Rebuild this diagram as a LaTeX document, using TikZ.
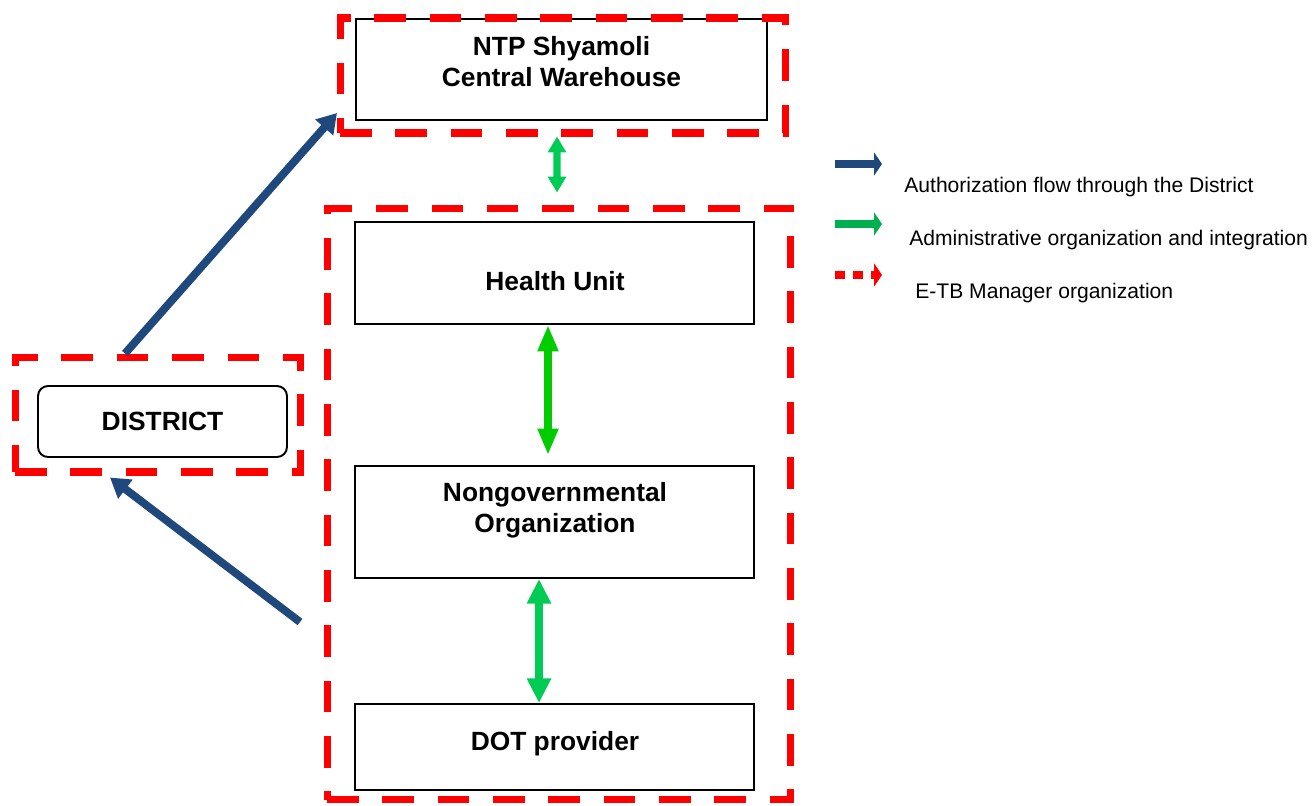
\documentclass[tikz,border=0pt]{standalone}
\usepackage{fontspec}
\setmainfont{Liberation Sans}
\usetikzlibrary{arrows.meta}

\definecolor{authblue}{RGB}{31,73,125}
\definecolor{admingreen}{RGB}{0,204,85}
\definecolor{brightgreen}{RGB}{0,204,0}
\definecolor{keygreen}{RGB}{0,176,80}

\begin{document}
\begin{tikzpicture}[x=0.02cm,y=-0.02cm,
    unit_box/.style={rectangle,draw=black,line width=1.1pt,minimum width=7.98cm},
    unit_text/.style={align=center,inner sep=0pt,font=\bfseries\fontsize{15}{17.6}\selectfont},
    district_box/.style={rectangle,rounded corners=0.2cm,draw=black,line width=1.1pt,minimum width=4.98cm,minimum height=1.42cm,font=\bfseries\fontsize{15}{17.6}\selectfont},
    etb_frame/.style={rectangle,draw=red,line width=4pt,dash pattern=on 18pt off 13.5pt},
    admin_arrow/.style={admingreen,line width=4.5pt,{Triangle[length=14pt,width=13pt]}-{Triangle[length=14pt,width=13pt]}},
    auth_arrow/.style={authblue,line width=4.5pt,-{Triangle[length=11pt,width=13pt]}},
    legend_text/.style={anchor=west,inner sep=0pt,font=\fontsize{12}{14}\selectfont}]
  \useasboundingbox (0,0) rectangle (1314,805);
\node[unit_box,minimum width=8.22cm,minimum height=2.02cm] (ntp) at (561.5,69.5) {};
\node[unit_box,minimum height=2.04cm] (health) at (554.5,273) {};
\node[unit_box,minimum height=2.24cm] (ngo) at (554.5,522) {};
\node[unit_box,minimum height=1.72cm] (dot) at (554.5,747) {};
\node[unit_text] (ntp_text) at (561.5,62) {NTP Shyamoli\\Central Warehouse};
\node[unit_text] (health_text) at (555,281) {Health Unit};
\node[unit_text] (ngo_text) at (555,510) {Nongovernmental\\Organization};
\node[unit_text] (dot_text) at (555,744) {DOT provider};
\node[district_box] (district) at (162.5,421.5) {DISTRICT};
% e-TB Manager frames
\node[etb_frame,minimum width=8.92cm,minimum height=2.3cm] (ntp_frame) at (563,75.5) {};
\node[etb_frame,minimum width=9.28cm,minimum height=11.84cm] (main_frame) at (559,504) {};
\node[etb_frame,minimum width=5.72cm,minimum height=2.3cm] (district_frame) at (158,414.5) {};
% administrative links
\draw[admin_arrow,line width=4pt,{Triangle[length=9pt,width=10pt]}-{Triangle[length=9pt,width=10pt]}] ([xshift=-0.12cm]ntp_frame.south) -- ([xshift=-0.04cm,yshift=0.24cm]main_frame.north);
\draw[admin_arrow,brightgreen,{Triangle[length=15pt,width=11pt]}-{Triangle[length=15pt,width=11pt]}] ([xshift=-0.13cm]health.south) -- ([xshift=-0.13cm,yshift=0.2cm]ngo.north);
\draw[admin_arrow] ([xshift=-0.31cm]ngo.south) -- ([xshift=-0.31cm]dot.north);
% authorization flow
\coordinate (ntp_entry) at (337,113);
\coordinate (dot_report) at (300,622);
\draw[auth_arrow] ([xshift=-0.66cm]district_frame.north) -- (ntp_entry);
\draw[auth_arrow] (dot_report) -- ([xshift=-0.96cm,yshift=-0.04cm]district_frame.south);
% legend
\coordinate (key_auth) at (835,164);
\coordinate (key_admin) at (835,224);
\coordinate (key_etb) at (835,275);
\draw[authblue,line width=5pt,-{Triangle[length=4.5pt,width=13pt]}] (key_auth) -- ++(47,0);
\draw[keygreen,line width=5pt,-{Triangle[length=4.5pt,width=13pt]}] (key_admin) -- ++(47,0);
\draw[red,line width=5pt,dash pattern=on 5.7pt off 4.5pt,-{Triangle[length=4.5pt,width=13pt]}] (key_etb) -- ++(47,0);
\node[legend_text] (auth_label) at (904,187) {Authorization flow through the District};
\node[legend_text] (admin_label) at (909,240) {Administrative organization and integration};
\node[legend_text] (etb_label) at (915,293) {E-TB Manager organization};
\end{tikzpicture}
\end{document}
